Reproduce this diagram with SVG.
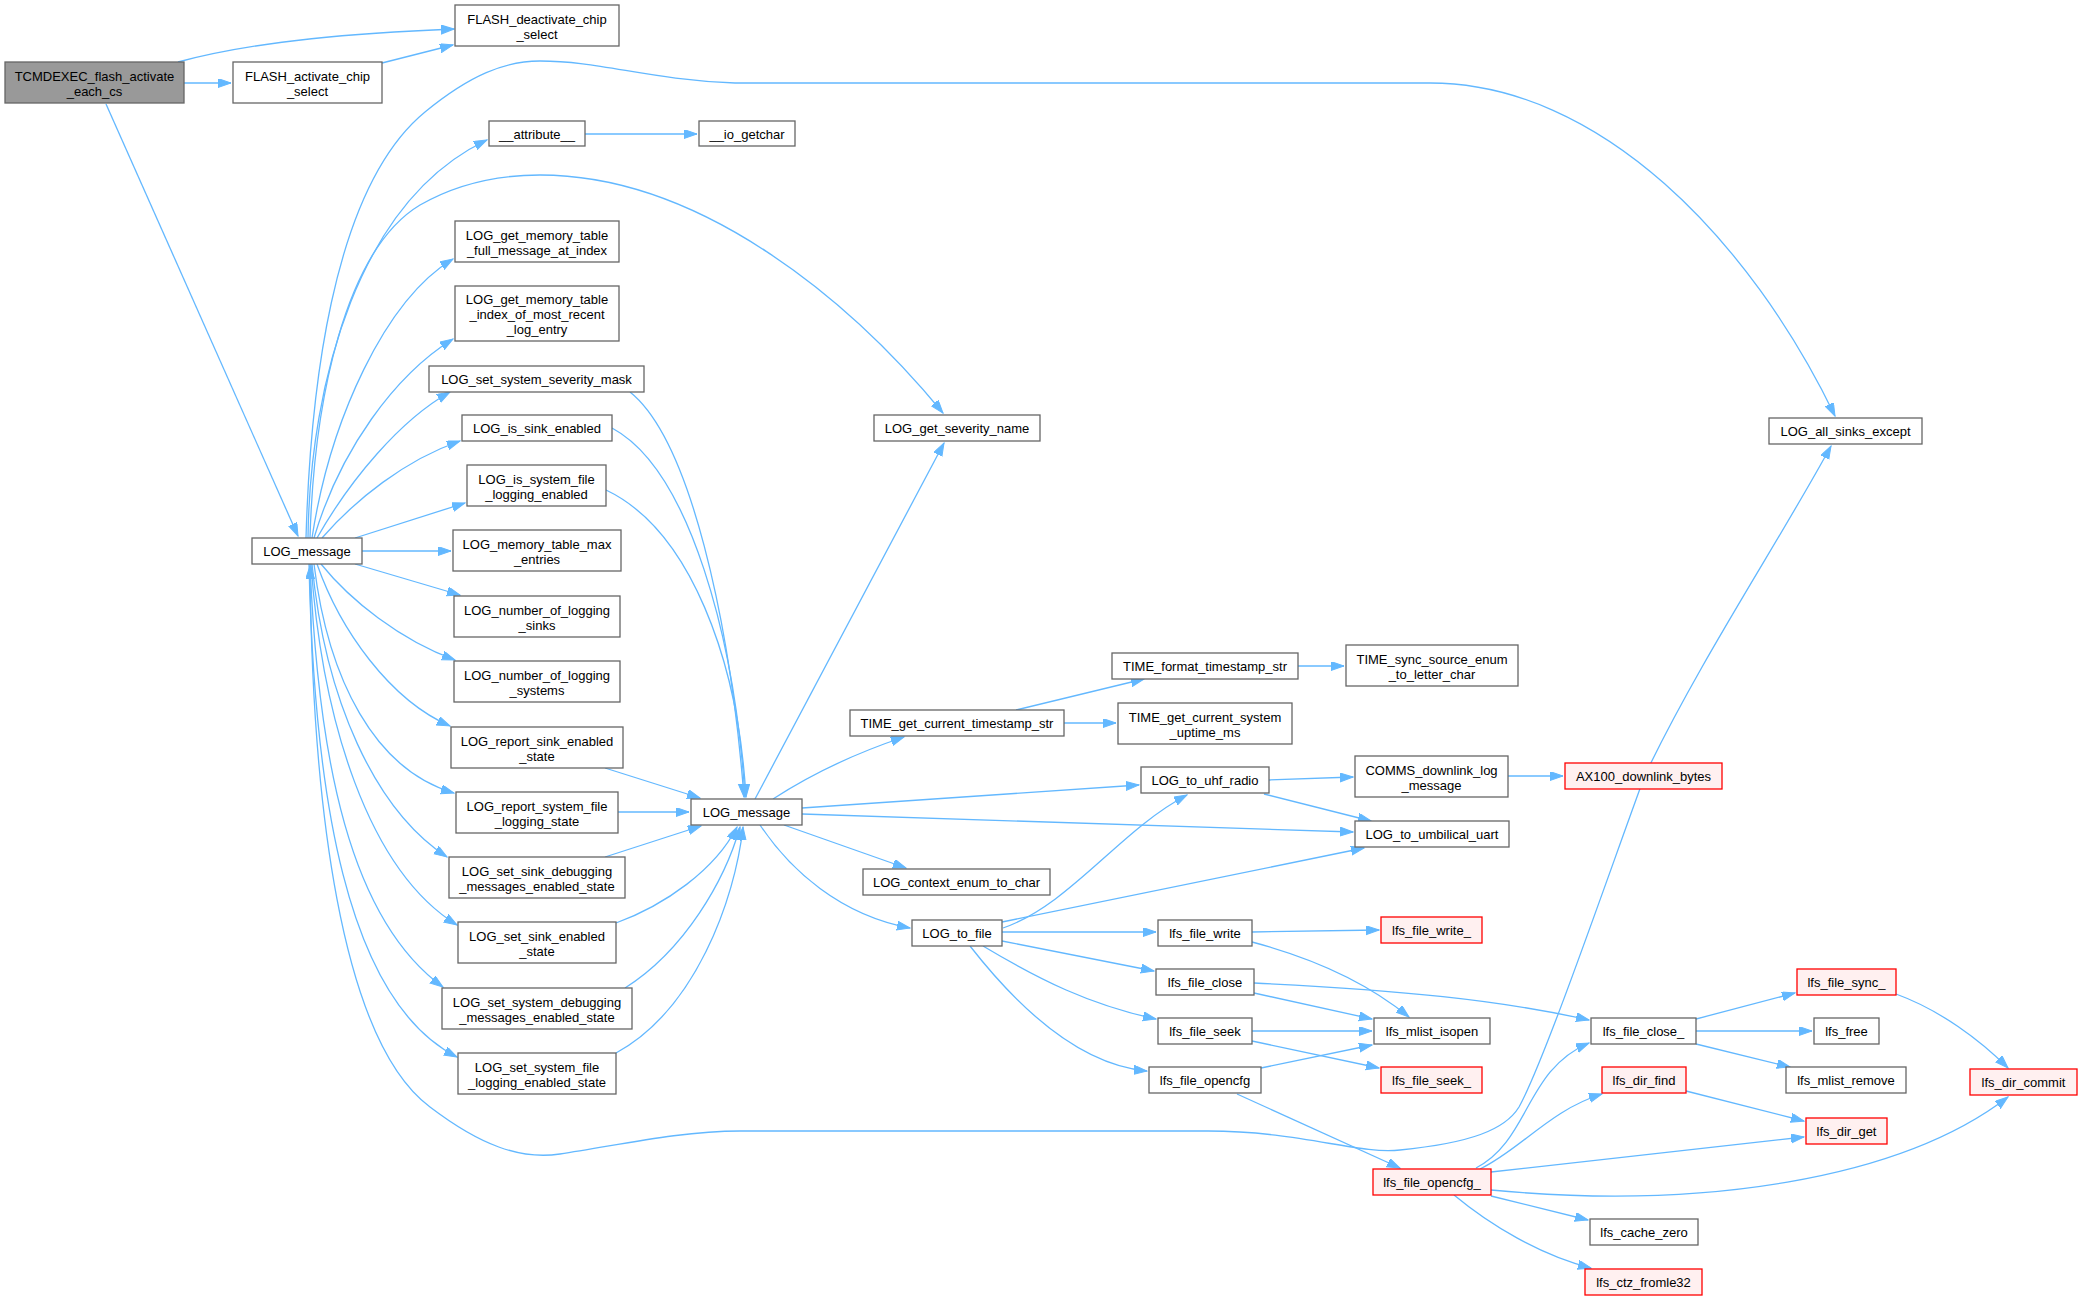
<svg xmlns="http://www.w3.org/2000/svg" width="2082" height="1300" viewBox="0 0 2082 1300">
<style>
rect{fill:#ffffff;stroke:#666666;stroke-width:1.3}
.root rect{fill:#999999;stroke:#666666}
.red rect{fill:#FFF0F0;stroke:#FF0000}
text{font-family:"Liberation Sans",Arial,Helvetica,sans-serif;font-size:13px;text-anchor:middle;fill:#000000}
#edges path{fill:none;stroke:#63B8FF;stroke-width:1.3;marker-end:url(#a)}
</style>
<defs>
<marker id="a" markerUnits="userSpaceOnUse" markerWidth="14" markerHeight="10" refX="13" refY="4.5" orient="auto-start-reverse">
<path d="M0,0 L13,4.5 L0,9 z" fill="#63B8FF" stroke="#63B8FF" stroke-width="1"/>
</marker>
</defs>
<rect x="0" y="0" width="2082" height="1300" style="fill:#ffffff;stroke:none"/>
<g id="edges">
<path d="M178,62 C260,40 360,33 454,29"/>
<path d="M184,83 L231,83"/>
<path d="M382,63 L453,45"/>
<path d="M106,104 L298,536"/>
<path d="M306,538 C310,400 330,190 425,112 C470,75 505,61 540,61 C600,61 650,80 735,83 L1430,83 C1600,83 1750,240 1835,416"/>
<path d="M308,538 C310,380 360,200 487,140"/>
<path d="M585,134 L697,134"/>
<path d="M310,538 C314,400 345,250 420,205 C460,182 500,175 540,175 C700,175 850,300 943,413"/>
<path d="M312,538 C330,420 385,300 453,259"/>
<path d="M314,538 C340,450 395,375 453,339"/>
<path d="M317,538 C350,480 400,420 450,392"/>
<path d="M322,538 C355,500 405,460 460,441"/>
<path d="M355,538 L465,503"/>
<path d="M362,551 L451,551"/>
<path d="M355,564 L460,595"/>
<path d="M321,564 C350,600 400,640 455,660"/>
<path d="M317,564 C340,630 390,700 450,726"/>
<path d="M314,564 C328,680 375,770 454,793"/>
<path d="M312,564 C325,700 375,810 447,857"/>
<path d="M311,564 C322,720 368,870 457,925"/>
<path d="M310,564 C318,760 350,920 443,987"/>
<path d="M309,564 C314,790 345,1000 457,1057"/>
<path style="marker-start:url(#a)" d="M310,566 C312,800 340,1040 430,1107 C480,1145 520,1160 560,1154 C620,1145 680,1131 740,1131 L1208,1131 C1300,1131 1360,1155 1400,1150 C1470,1143 1505,1130 1519,1107 C1545,1060 1610,870 1645,775 C1700,660 1780,540 1831,446"/>
<path d="M630,392 C690,440 730,620 744,797"/>
<path d="M612,428 C690,470 735,640 745,797"/>
<path d="M606,490 C690,530 738,660 746,797"/>
<path d="M605,768 L700,798"/>
<path d="M618,812 L689,812"/>
<path d="M605,857 L701,826"/>
<path d="M616,923 C665,905 715,870 737,827"/>
<path d="M625,988 C685,950 725,880 740,827"/>
<path d="M616,1053 C695,1010 735,900 743,827"/>
<path d="M755,799 L944,443"/>
<path d="M773,799 C810,775 850,755 904,737"/>
<path d="M802,808 L1139,785"/>
<path d="M802,814 L1353,832"/>
<path d="M784,825 L906,868"/>
<path d="M760,825 C790,870 840,915 910,928"/>
<path d="M1016,710 L1144,679"/>
<path d="M1064,723 L1116,723"/>
<path d="M1298,666 L1344,666"/>
<path d="M1269,780 L1353,777"/>
<path d="M1264,794 L1371,821"/>
<path d="M1508,776 L1563,776"/>
<path d="M1003,928 C1070,905 1120,830 1187,795"/>
<path d="M1002,922 L1364,848"/>
<path d="M1002,932 L1156,932"/>
<path d="M1002,941 L1154,971"/>
<path d="M983,946 C1040,980 1090,1005 1156,1019"/>
<path d="M970,946 C1020,1010 1080,1065 1147,1071"/>
<path d="M1252,932 L1379,930"/>
<path d="M1252,942 C1320,960 1370,985 1409,1017"/>
<path d="M1254,983 C1400,990 1500,1000 1589,1020"/>
<path d="M1254,993 L1372,1019"/>
<path d="M1252,1031 L1372,1031"/>
<path d="M1252,1041 L1379,1068"/>
<path d="M1261,1068 L1372,1045"/>
<path d="M1237,1094 L1400,1168"/>
<path d="M1696,1019 L1795,993"/>
<path d="M1696,1031 L1812,1031"/>
<path d="M1696,1044 L1790,1067"/>
<path d="M1896,994 C1940,1010 1980,1040 2008,1068"/>
<path d="M1686,1091 L1804,1121"/>
<path d="M1476,1168 C1530,1140 1525,1070 1589,1043"/>
<path d="M1480,1169 C1520,1150 1550,1110 1602,1094"/>
<path d="M1491,1172 L1804,1137"/>
<path d="M1491,1190 C1700,1210 1900,1180 2008,1097"/>
<path d="M1491,1196 L1588,1220"/>
<path d="M1454,1195 C1490,1225 1540,1255 1591,1268"/>
</g>
<g id="n_tcmdexec" class="root"><rect x="5" y="62" width="179" height="41"/><text x="94.5" y="80.5">TCMDEXEC_flash_activate</text><text x="94.5" y="95.5">_each_cs</text></g>
<g id="n_flash_deactivate"><rect x="455" y="5" width="164" height="41"/><text x="537" y="23.5">FLASH_deactivate_chip</text><text x="537" y="38.5">_select</text></g>
<g id="n_flash_activate"><rect x="233" y="62" width="149" height="41"/><text x="307.5" y="80.5">FLASH_activate_chip</text><text x="307.5" y="95.5">_select</text></g>
<g id="n_attribute"><rect x="489" y="121" width="96" height="25"/><text x="537" y="138.5">__attribute__</text></g>
<g id="n_io_getchar"><rect x="699" y="121" width="96" height="25"/><text x="747" y="138.5">__io_getchar</text></g>
<g id="n_full_message"><rect x="455" y="221" width="164" height="41"/><text x="537" y="239.5">LOG_get_memory_table</text><text x="537" y="254.5">_full_message_at_index</text></g>
<g id="n_index_recent"><rect x="455" y="286" width="164" height="55"/><text x="537" y="304">LOG_get_memory_table</text><text x="537" y="319">_index_of_most_recent</text><text x="537" y="334">_log_entry</text></g>
<g id="n_severity_mask"><rect x="429" y="366" width="215" height="26"/><text x="536.5" y="384">LOG_set_system_severity_mask</text></g>
<g id="n_is_sink_enabled"><rect x="462" y="415" width="150" height="26"/><text x="537" y="433">LOG_is_sink_enabled</text></g>
<g id="n_is_system_file"><rect x="467" y="465" width="139" height="41"/><text x="536.5" y="483.5">LOG_is_system_file</text><text x="536.5" y="498.5">_logging_enabled</text></g>
<g id="n_memory_max"><rect x="453" y="530" width="168" height="41"/><text x="537" y="548.5">LOG_memory_table_max</text><text x="537" y="563.5">_entries</text></g>
<g id="n_num_sinks"><rect x="454" y="596" width="166" height="41"/><text x="537" y="614.5">LOG_number_of_logging</text><text x="537" y="629.5">_sinks</text></g>
<g id="n_num_systems"><rect x="454" y="661" width="166" height="41"/><text x="537" y="679.5">LOG_number_of_logging</text><text x="537" y="694.5">_systems</text></g>
<g id="n_report_sink"><rect x="451" y="727" width="172" height="41"/><text x="537" y="745.5">LOG_report_sink_enabled</text><text x="537" y="760.5">_state</text></g>
<g id="n_report_system_file"><rect x="456" y="792" width="162" height="41"/><text x="537" y="810.5">LOG_report_system_file</text><text x="537" y="825.5">_logging_state</text></g>
<g id="n_set_sink_debug"><rect x="449" y="857" width="176" height="41"/><text x="537" y="875.5">LOG_set_sink_debugging</text><text x="537" y="890.5">_messages_enabled_state</text></g>
<g id="n_set_sink_enabled"><rect x="458" y="922" width="158" height="41"/><text x="537" y="940.5">LOG_set_sink_enabled</text><text x="537" y="955.5">_state</text></g>
<g id="n_set_system_debug"><rect x="442" y="988" width="190" height="41"/><text x="537" y="1006.5">LOG_set_system_debugging</text><text x="537" y="1021.5">_messages_enabled_state</text></g>
<g id="n_set_system_file"><rect x="458" y="1053" width="158" height="41"/><text x="537" y="1071.5">LOG_set_system_file</text><text x="537" y="1086.5">_logging_enabled_state</text></g>
<g id="n_log_message_left"><rect x="252" y="538" width="110" height="26"/><text x="307" y="556">LOG_message</text></g>
<g id="n_log_message_center"><rect x="691" y="799" width="111" height="26"/><text x="746.5" y="817">LOG_message</text></g>
<g id="n_severity_name"><rect x="874" y="415" width="166" height="26"/><text x="957" y="433">LOG_get_severity_name</text></g>
<g id="n_time_current"><rect x="850" y="710" width="214" height="26"/><text x="957" y="728">TIME_get_current_timestamp_str</text></g>
<g id="n_time_format"><rect x="1112" y="653" width="186" height="26"/><text x="1205" y="671">TIME_format_timestamp_str</text></g>
<g id="n_time_uptime"><rect x="1118" y="703" width="174" height="41"/><text x="1205" y="721.5">TIME_get_current_system</text><text x="1205" y="736.5">_uptime_ms</text></g>
<g id="n_time_sync"><rect x="1346" y="645" width="172" height="41"/><text x="1432" y="663.5">TIME_sync_source_enum</text><text x="1432" y="678.5">_to_letter_char</text></g>
<g id="n_uhf"><rect x="1141" y="767" width="128" height="26"/><text x="1205" y="785">LOG_to_uhf_radio</text></g>
<g id="n_comms"><rect x="1355" y="756" width="153" height="41"/><text x="1431.5" y="774.5">COMMS_downlink_log</text><text x="1431.5" y="789.5">_message</text></g>
<g id="n_ax100" class="red"><rect x="1565" y="763" width="157" height="26"/><text x="1643.5" y="781">AX100_downlink_bytes</text></g>
<g id="n_all_sinks"><rect x="1769" y="418" width="153" height="26"/><text x="1845.5" y="436">LOG_all_sinks_except</text></g>
<g id="n_uart"><rect x="1355" y="821" width="154" height="26"/><text x="1432" y="839">LOG_to_umbilical_uart</text></g>
<g id="n_context"><rect x="863" y="869" width="187" height="26"/><text x="956.5" y="887">LOG_context_enum_to_char</text></g>
<g id="n_to_file"><rect x="912" y="920" width="90" height="26"/><text x="957" y="938">LOG_to_file</text></g>
<g id="n_file_write"><rect x="1158" y="920" width="94" height="26"/><text x="1205" y="938">lfs_file_write</text></g>
<g id="n_file_close"><rect x="1156" y="969" width="98" height="26"/><text x="1205" y="987">lfs_file_close</text></g>
<g id="n_file_seek"><rect x="1158" y="1018" width="94" height="26"/><text x="1205" y="1036">lfs_file_seek</text></g>
<g id="n_file_opencfg"><rect x="1149" y="1067" width="112" height="26"/><text x="1205" y="1085">lfs_file_opencfg</text></g>
<g id="n_file_write_" class="red"><rect x="1381" y="917" width="101" height="26"/><text x="1431.5" y="935">lfs_file_write_</text></g>
<g id="n_mlist_isopen"><rect x="1374" y="1018" width="116" height="26"/><text x="1432" y="1036">lfs_mlist_isopen</text></g>
<g id="n_file_seek_" class="red"><rect x="1381" y="1067" width="101" height="26"/><text x="1431.5" y="1085">lfs_file_seek_</text></g>
<g id="n_file_close_"><rect x="1591" y="1018" width="105" height="26"/><text x="1643.5" y="1036">lfs_file_close_</text></g>
<g id="n_file_sync_" class="red"><rect x="1797" y="969" width="99" height="26"/><text x="1846.5" y="987">lfs_file_sync_</text></g>
<g id="n_free"><rect x="1814" y="1018" width="65" height="26"/><text x="1846.5" y="1036">lfs_free</text></g>
<g id="n_mlist_remove"><rect x="1786" y="1067" width="120" height="26"/><text x="1846" y="1085">lfs_mlist_remove</text></g>
<g id="n_dir_commit" class="red"><rect x="1970" y="1069" width="107" height="26"/><text x="2023.5" y="1087">lfs_dir_commit</text></g>
<g id="n_dir_find" class="red"><rect x="1602" y="1067" width="84" height="26"/><text x="1644" y="1085">lfs_dir_find</text></g>
<g id="n_dir_get" class="red"><rect x="1806" y="1118" width="81" height="26"/><text x="1846.5" y="1136">lfs_dir_get</text></g>
<g id="n_file_opencfg_" class="red"><rect x="1373" y="1169" width="118" height="26"/><text x="1432" y="1187">lfs_file_opencfg_</text></g>
<g id="n_cache_zero"><rect x="1590" y="1219" width="108" height="26"/><text x="1644" y="1237">lfs_cache_zero</text></g>
<g id="n_ctz_fromle32" class="red"><rect x="1585" y="1269" width="117" height="26"/><text x="1643.5" y="1287">lfs_ctz_fromle32</text></g>
</svg>
